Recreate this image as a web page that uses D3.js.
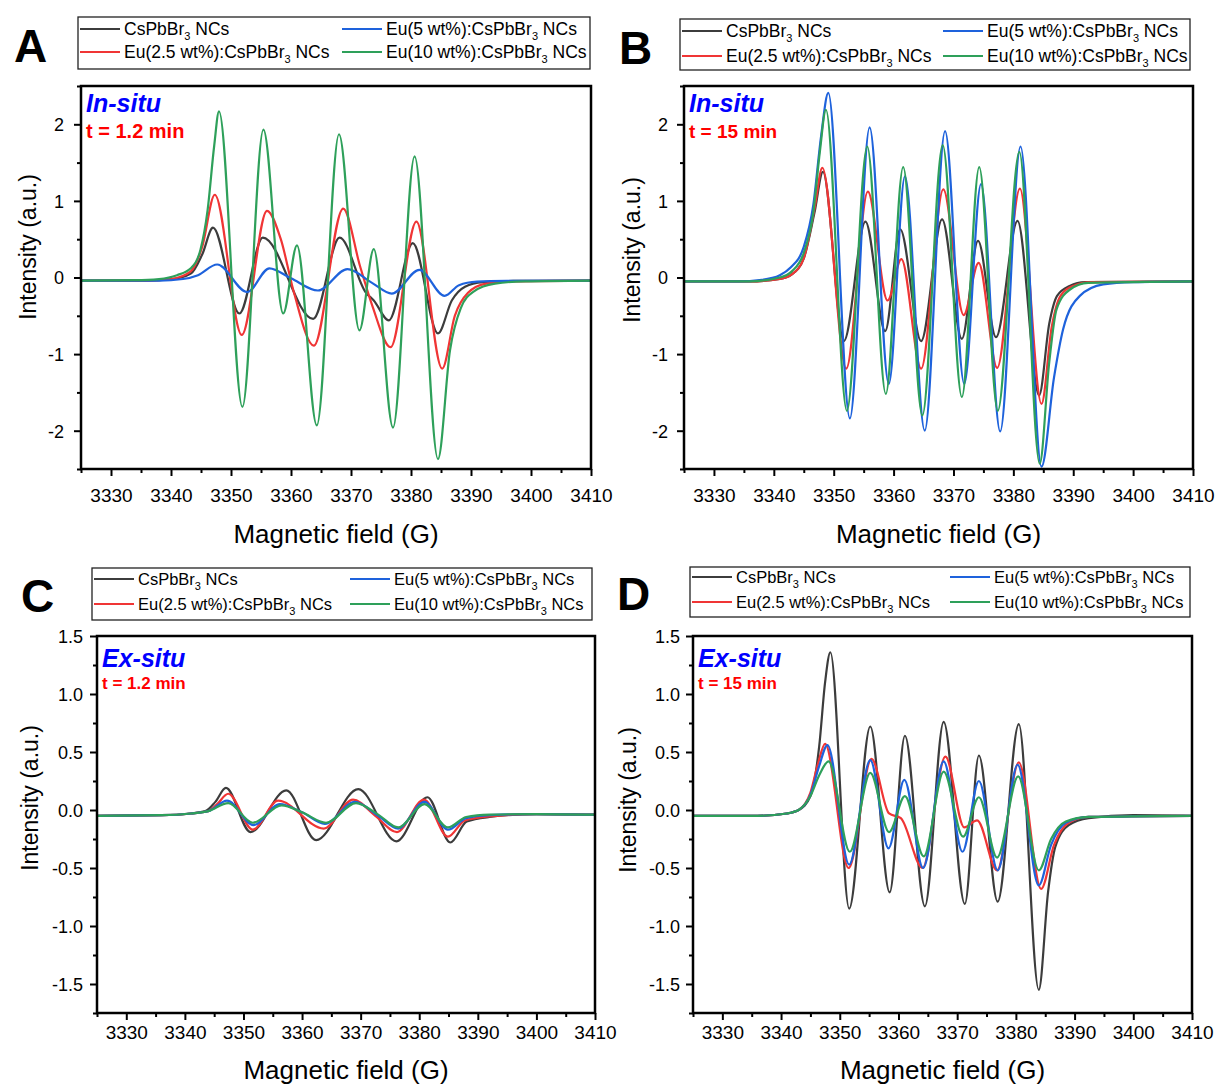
<!DOCTYPE html>
<html>
<head>
<meta charset="utf-8">
<script src="https://cdn.jsdelivr.net/npm/d3@7"></script>
<style>
  body { margin: 0; background: #fff; }
  svg { font-family: "Liberation Sans", Arial, sans-serif; }
</style>
</head>
<body>
<svg id="fig" width="1217" height="1086"></svg>
<script>
/* globals d3 */

// ---- data: [field (G), intensity (a.u.)] ----
var seriesNames = ["CsPbBr", "Eu(2.5 wt%):CsPbBr", "Eu(5 wt%):CsPbBr", "Eu(10 wt%):CsPbBr"];
var xTicks = [3330, 3340, 3350, 3360, 3370, 3380, 3390, 3400, 3410];
var yTicksAB = [-2, -1, 0, 1, 2];
var yTicksCD = [-1.5, -1.0, -0.5, 0.0, 0.5, 1.0, 1.5];

// A : in-situ, t = 1.2 min
var aBlack = [[3325,-0.04],[3336,-0.04],[3340,-0.025],[3343.3,0.05],[3345.2,0.3],[3347,0.65],[3351.4,-0.47],[3355.3,0.52],[3363.7,-0.54],[3368.1,0.52],[3372.5,-0.2],[3373.8,-0.3],[3376.3,-0.56],[3380.3,0.45],[3384.5,-0.73],[3386.8,-0.3],[3389,-0.12],[3392,-0.06],[3397,-0.045],[3410,-0.04]];
var aRed = [[3325,-0.04],[3336,-0.04],[3340,-0.02],[3343.3,0.08],[3345.2,0.4],[3347.3,1.08],[3351.8,-0.75],[3356,0.87],[3358.3,0.5],[3360.5,-0.2],[3363.8,-0.89],[3368.7,0.9],[3371.5,0.15],[3373.6,-0.38],[3376.6,-0.91],[3380.9,0.73],[3385.2,-1.19],[3387.3,-0.5],[3389.5,-0.2],[3392.5,-0.08],[3397,-0.05],[3410,-0.04]];
var aBlue = [[3325,-0.04],[3338,-0.04],[3342,-0.02],[3344.5,0.03],[3347.7,0.17],[3352.7,-0.19],[3356.4,0.12],[3360,-0.01],[3364.5,-0.17],[3369.4,0.11],[3373.5,-0.07],[3376.8,-0.21],[3381.4,0.1],[3385.6,-0.24],[3388,-0.1],[3391,-0.055],[3396,-0.045],[3410,-0.04]];
var aGreen = [[3325,-0.04],[3334,-0.035],[3338,-0.02],[3341,0.03],[3343.3,0.12],[3344.9,0.36],[3346.1,0.88],[3347.2,1.72],[3348,2.17],[3351.9,-1.69],[3355.4,1.93],[3358.7,-0.47],[3361,0.42],[3364.3,-1.93],[3368,1.87],[3371.4,-0.69],[3373.8,0.37],[3377,-1.96],[3380.6,1.58],[3384.5,-2.37],[3386.5,-0.95],[3388.3,-0.4],[3390.5,-0.18],[3394,-0.08],[3399,-0.05],[3410,-0.04]];

// B : in-situ, t = 15 min
var bBlack = [[3325,-0.05],[3336,-0.05],[3341,-0.02],[3343,0.04],[3345,0.25],[3346.8,0.85],[3348.2,1.38],[3351.7,-0.83],[3355.3,0.73],[3358.6,-0.7],[3361.1,0.63],[3364.6,-0.83],[3368.1,0.76],[3371.4,-0.8],[3374.1,0.48],[3377.1,-0.78],[3380.7,0.74],[3384.3,-1.54],[3386,-0.6],[3387.3,-0.24],[3389.4,-0.11],[3392,-0.06],[3410,-0.05]];
var bRed = [[3325,-0.05],[3336,-0.05],[3341,-0.02],[3343,0.04],[3345,0.25],[3346.8,0.9],[3348.1,1.43],[3352.1,-1.19],[3355.7,1.12],[3359,-0.3],[3361.3,0.24],[3364.6,-1.19],[3368.3,1.15],[3371.7,-0.49],[3374.2,0.19],[3377.3,-1.18],[3381.1,1.16],[3384.7,-1.65],[3386.4,-0.65],[3387.8,-0.25],[3390,-0.11],[3393,-0.06],[3410,-0.05]];
var bBlue = [[3325,-0.05],[3334,-0.05],[3338,-0.03],[3341,0.03],[3342.8,0.13],[3345,0.4],[3346.6,0.95],[3347.9,1.85],[3349.1,2.41],[3352.7,-1.84],[3356,1.96],[3359.2,-1.39],[3361.9,1.32],[3365.2,-2.0],[3368.6,1.91],[3371.8,-1.39],[3374.6,1.22],[3377.8,-2.01],[3381.2,1.71],[3384.7,-2.47],[3386.8,-1.3],[3388.3,-0.68],[3391.1,-0.24],[3395,-0.09],[3400,-0.06],[3410,-0.05]];
var bGreen = [[3325,-0.05],[3336,-0.05],[3341,0.0],[3343,0.08],[3345,0.32],[3346.6,0.85],[3347.7,1.65],[3348.7,2.19],[3352.2,-1.74],[3355.6,1.71],[3358.7,-1.52],[3361.6,1.44],[3364.8,-1.8],[3368.2,1.73],[3371.4,-1.56],[3374.3,1.44],[3377.4,-1.74],[3381,1.64],[3384.4,-2.43],[3386,-1.1],[3387.2,-0.42],[3389.4,-0.16],[3392.5,-0.07],[3410,-0.05]];

// C : ex-situ, t = 1.2 min
var cBlack = [[3325,-0.05],[3336,-0.045],[3341,-0.03],[3343.5,-0.01],[3345.2,0.07],[3347,0.19],[3351.2,-0.19],[3357.3,0.17],[3362.4,-0.26],[3369.6,0.18],[3376.1,-0.27],[3381.4,0.11],[3385.3,-0.28],[3388.1,-0.1],[3392,-0.06],[3400,-0.035],[3410,-0.04]];
var cRed = [[3325,-0.05],[3336,-0.045],[3341,-0.03],[3344,-0.01],[3345.5,0.05],[3347.4,0.14],[3351.6,-0.17],[3355.9,0.08],[3363.7,-0.16],[3368.7,0.09],[3372.5,-0.05],[3376.2,-0.19],[3380.8,0.09],[3384.9,-0.23],[3387.8,-0.09],[3392,-0.055],[3400,-0.035],[3410,-0.04]];
var cBlue = [[3325,-0.05],[3336,-0.045],[3341,-0.03],[3344,-0.01],[3347.2,0.08],[3351.7,-0.13],[3356.2,0.05],[3360,-0.02],[3363.9,-0.12],[3369,0.07],[3373,-0.05],[3376.4,-0.16],[3380.9,0.07],[3384.9,-0.17],[3388,-0.07],[3392,-0.045],[3400,-0.035],[3410,-0.04]];
var cGreen = [[3325,-0.05],[3336,-0.045],[3341,-0.03],[3344,-0.01],[3347.4,0.06],[3351.6,-0.11],[3356.5,0.04],[3360,-0.02],[3364.1,-0.11],[3369.2,0.06],[3373,-0.04],[3376.4,-0.15],[3380.9,0.05],[3384.9,-0.15],[3388,-0.06],[3392,-0.04],[3400,-0.035],[3410,-0.04]];

// D : ex-situ, t = 15 min
var dBlack = [[3325,-0.05],[3336,-0.05],[3341,-0.03],[3343,0.0],[3345,0.12],[3346.5,0.55],[3347.5,1.1],[3348.4,1.36],[3351.6,-0.85],[3355.2,0.72],[3358.5,-0.71],[3361.1,0.64],[3364.5,-0.83],[3367.7,0.76],[3371.3,-0.81],[3373.7,0.47],[3376.9,-0.79],[3380.5,0.74],[3383.9,-1.55],[3385.5,-0.7],[3386.7,-0.32],[3389,-0.13],[3392.4,-0.07],[3400,-0.045],[3410,-0.05]];
var dRed = [[3325,-0.05],[3336,-0.05],[3341,-0.03],[3343,0.0],[3345,0.15],[3346.3,0.4],[3347.5,0.57],[3351.5,-0.5],[3355.4,0.44],[3358.4,-0.03],[3360.4,-0.07],[3364.1,-0.5],[3368,0.46],[3371.2,-0.15],[3373.4,-0.09],[3376.8,-0.52],[3380.5,0.41],[3384.3,-0.68],[3386.5,-0.3],[3389,-0.11],[3392.4,-0.06],[3410,-0.05]];
var dBlue = [[3325,-0.05],[3336,-0.05],[3341,-0.03],[3343,0.0],[3345,0.13],[3346.5,0.38],[3347.9,0.56],[3351.6,-0.47],[3355.2,0.43],[3358.3,-0.33],[3361,0.26],[3364.2,-0.5],[3367.7,0.42],[3370.9,-0.36],[3373.7,0.25],[3376.9,-0.52],[3380.3,0.39],[3383.9,-0.65],[3386,-0.3],[3388.5,-0.11],[3392.4,-0.06],[3410,-0.05]];
var dGreen = [[3325,-0.05],[3336,-0.05],[3341,-0.03],[3343,0.0],[3345,0.12],[3346.5,0.3],[3348.1,0.42],[3351.7,-0.36],[3355.2,0.32],[3358.4,-0.19],[3361.1,0.12],[3364.3,-0.4],[3367.7,0.33],[3371,-0.23],[3373.7,0.11],[3376.8,-0.41],[3380.4,0.29],[3383.9,-0.52],[3386,-0.25],[3388.5,-0.1],[3392.4,-0.06],[3410,-0.05]];

// ---- styling / layout ----
var colors = ["#3c3c3c", "#f03535", "#1e62dc", "#2ea05a"];

var panels = [
  { letter: "A", lx: 14, ly: 62, mode: "In-situ", time: "t = 1.2 min", timeSize: 20,
    box: { l: 81, r: 591, t: 86, b: 469 }, yDomain: [-2.5, 2.5], yTicks: yTicksAB, yMinor: 0.5,
    yFmt: function(d) { return String(d); }, yPad: 10, xLabY: 502, xTitleY: 543, yTitleX: 36, yTitleY: 247,
    leg: { l: 78, r: 590, t: 17, b: 69, c1: 80, c2: 342, rows: [29, 52], fs: 17.5 },
    series: [aBlack, aRed, aBlue, aGreen] },
  { letter: "B", lx: 619, ly: 64, mode: "In-situ", time: "t = 15 min", timeSize: 19,
    box: { l: 684, r: 1193, t: 86, b: 469 }, yDomain: [-2.5, 2.5], yTicks: yTicksAB, yMinor: 0.5,
    yFmt: function(d) { return String(d); }, yPad: 9, xLabY: 502, xTitleY: 543, yTitleX: 640, yTitleY: 250,
    leg: { l: 680, r: 1190, t: 19, b: 70, c1: 682, c2: 943, rows: [31, 56], fs: 17.5 },
    series: [bBlack, bRed, bBlue, bGreen] },
  { letter: "C", lx: 21, ly: 612, mode: "Ex-situ", time: "t = 1.2 min", timeSize: 17,
    box: { l: 97, r: 595, t: 636, b: 1013 }, yDomain: [-1.75, 1.5], yTicks: yTicksCD, yMinor: 0.25,
    yFmt: function(d) { return d.toFixed(1); }, yPad: 7, xLabY: 1039, xTitleY: 1079, yTitleX: 38, yTitleY: 798,
    leg: { l: 92, r: 592, t: 568, b: 620, c1: 94, c2: 350, rows: [579, 604], fs: 16.5 },
    series: [cBlack, cRed, cBlue, cGreen] },
  { letter: "D", lx: 617, ly: 610, mode: "Ex-situ", time: "t = 15 min", timeSize: 17,
    box: { l: 693, r: 1192, t: 636, b: 1013 }, yDomain: [-1.75, 1.5], yTicks: yTicksCD, yMinor: 0.25,
    yFmt: function(d) { return d.toFixed(1); }, yPad: 6, xLabY: 1039, xTitleY: 1079, yTitleX: 636, yTitleY: 800,
    leg: { l: 690, r: 1190, t: 567, b: 617, c1: 692, c2: 950, rows: [577, 602], fs: 16.5 },
    series: [dBlack, dRed, dBlue, dGreen] }
];

var svg = d3.select("#fig");

panels.forEach(function(p, pi) {
  var b = p.box;
  var x = d3.scaleLinear().domain([3325, 3410]).range([b.l, b.r]);
  var y = d3.scaleLinear().domain(p.yDomain).range([b.b, b.t]);

  var g = svg.append("g");

  // minor ticks (no labels)
  var xMinor = d3.range(3325, 3411, 5).filter(function(v) { return v % 10 !== 0; });
  g.append("g")
    .attr("transform", "translate(0," + b.b + ")")
    .call(d3.axisBottom(x).tickValues(xMinor).tickSize(4).tickFormat(""))
    .call(cleanAxis);
  var yMinorVals = d3.range(p.yDomain[0], p.yDomain[1] + 0.001, p.yMinor)
    .filter(function(v) { return p.yTicks.every(function(t) { return Math.abs(t - v) > 1e-6; }); });
  g.append("g")
    .attr("transform", "translate(" + b.l + ",0)")
    .call(d3.axisLeft(y).tickValues(yMinorVals).tickSize(4).tickFormat(""))
    .call(cleanAxis);

  // major ticks
  g.append("g")
    .attr("transform", "translate(0," + b.b + ")")
    .call(d3.axisBottom(x).tickValues(xTicks).tickSize(7).tickPadding(0).tickFormat(d3.format("d")))
    .call(cleanAxis)
    .selectAll("text")
    .attr("y", null).attr("dy", null)
    .attr("transform", "translate(0," + (p.xLabY - b.b) + ")")
    .style("font-size", "19px");
  g.append("g")
    .attr("transform", "translate(" + b.l + ",0)")
    .call(d3.axisLeft(y).tickValues(p.yTicks).tickSize(7).tickPadding(p.yPad).tickFormat(p.yFmt))
    .call(cleanAxis)
    .selectAll("text")
    .attr("dy", "0.36em")
    .style("font-size", "18px");

  // spectra
  var clipId = "clip" + pi;
  g.append("clipPath").attr("id", clipId)
    .append("rect")
    .attr("x", b.l).attr("y", b.t)
    .attr("width", b.r - b.l).attr("height", b.b - b.t);

  var line = d3.line()
    .x(function(d) { return x(d[0]); })
    .y(function(d) { return y(d[1]); })
    .curve(d3.curveMonotoneX);

  g.append("g").attr("clip-path", "url(#" + clipId + ")")
    .selectAll("path")
    .data(p.series)
    .enter().append("path")
    .attr("d", line)
    .attr("fill", "none")
    .attr("stroke", function(d, i) { return colors[i]; })
    .attr("stroke-width", 2.2)
    .attr("stroke-linejoin", "round");

  // frame
  g.append("rect")
    .attr("x", b.l).attr("y", b.t)
    .attr("width", b.r - b.l).attr("height", b.b - b.t)
    .attr("fill", "none").attr("stroke", "#000").attr("stroke-width", 2.5);

  // in-plot notes
  g.append("text")
    .attr("x", b.l + 5).attr("y", b.t + (pi < 2 ? 26 : 31))
    .attr("fill", "#0000ff")
    .style("font-size", "25px").style("font-weight", "bold").style("font-style", "italic")
    .text(p.mode);
  g.append("text")
    .attr("x", b.l + 5).attr("y", b.t + (pi < 2 ? 52 : 53))
    .attr("fill", "#ff0000")
    .style("font-size", p.timeSize + "px").style("font-weight", "bold")
    .text(p.time);

  // axis titles
  g.append("text")
    .attr("x", (b.l + b.r) / 2).attr("y", p.xTitleY)
    .attr("text-anchor", "middle")
    .style("font-size", "26px")
    .text("Magnetic field (G)");
  g.append("text")
    .attr("transform", "translate(" + p.yTitleX + "," + p.yTitleY + ") rotate(-90)")
    .attr("text-anchor", "middle")
    .style("font-size", "23px")
    .text("Intensity (a.u.)");

  // panel letter
  g.append("text")
    .attr("x", p.lx).attr("y", p.ly)
    .style("font-size", "46px").style("font-weight", "bold")
    .text(p.letter);

  // legend
  var L = p.leg;
  var lg = g.append("g");
  lg.append("rect")
    .attr("x", L.l).attr("y", L.t)
    .attr("width", L.r - L.l).attr("height", L.b - L.t)
    .attr("fill", "#fff").attr("stroke", "#222").attr("stroke-width", 1.3);
  // order in the box: black, red (left column) / blue, green (right column)
  var slots = [[L.c1, L.rows[0]], [L.c1, L.rows[1]], [L.c2, L.rows[0]], [L.c2, L.rows[1]]];
  seriesNames.forEach(function(name, i) {
    var sx = slots[i][0], sy = slots[i][1];
    lg.append("line")
      .attr("x1", sx).attr("x2", sx + 40)
      .attr("y1", sy).attr("y2", sy)
      .attr("stroke", colors[i]).attr("stroke-width", 2);
    var t = lg.append("text")
      .attr("x", sx + 44).attr("y", sy + 6)
      .style("font-size", L.fs + "px");
    t.append("tspan").text(name);
    t.append("tspan").attr("dy", 5).style("font-size", "11px").text("3");
    t.append("tspan").attr("dy", -5).text(" NCs");
  });
});

function cleanAxis(sel) {
  sel.select(".domain").remove();
  sel.selectAll(".tick line").attr("stroke", "#000").attr("stroke-width", 2);
  sel.selectAll(".tick text").attr("fill", "#000");
  sel.attr("font-family", null).attr("font-size", null);
}
</script>
</body>
</html>
